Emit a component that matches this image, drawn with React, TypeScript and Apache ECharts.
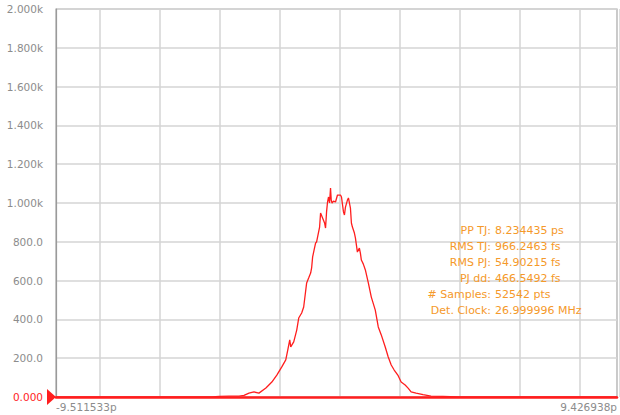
import React, { useEffect, useRef } from "react";
import * as echarts from "echarts";

const xMin = -9.511533;
const xMax = 9.426938;
const xTickLabels = ["-9.511533p", "9.426938p"];
const yTickLabels = ["0.000", "200.0", "400.0", "600.0", "800.0", "1.000k", "1.200k", "1.400k", "1.600k", "1.800k", "2.000k"];

const timePs = [
  -9.511533, -4.239, -4.004, -3.669, -3.333, -3.165, -2.997, -2.829, -2.661, -2.426,
  -2.225, -2.057, -1.889, -1.755, -1.688, -1.621, -1.587, -1.486, -1.385, -1.318,
  -1.218, -1.15, -1.05, -0.983, -0.915, -0.882, -0.848, -0.798, -0.747, -0.714,
  -0.613, -0.58, -0.512, -0.445, -0.412, -0.378, -0.345, -0.311, -0.277, -0.244,
  -0.22, -0.193, -0.143, -0.076, -0.009, 0.092, 0.126, 0.193, 0.226, 0.26,
  0.327, 0.361, 0.428, 0.461, 0.495, 0.562, 0.596, 0.629, 0.663, 0.73,
  0.764, 0.797, 0.864, 0.932, 1.032, 1.133, 1.267, 1.368, 1.469, 1.603,
  1.704, 1.805, 1.905, 2.04, 2.14, 2.275, 2.375, 2.476, 2.644, 2.879,
  3.148, 3.551, 4.054, 9.426938,
];
const counts = [
  0, 0, 3, 4, 5, 8, 20, 26, 20, 46,
  77, 113, 155, 191, 242, 294, 258, 284, 345, 407,
  433, 464, 588, 613, 639, 665, 722, 758, 794, 799,
  876, 948, 923, 897, 871, 954, 1005, 1031, 1000, 1077,
  1015, 1000, 1010, 1005, 1041, 1041, 1031, 954, 938, 979,
  1015, 1026, 974, 897, 876, 845, 820, 784, 747, 768,
  742, 706, 685, 655, 588, 515, 448, 361, 320, 258,
  206, 165, 139, 110, 77, 62, 46, 26, 20, 12,
  5, 3, 0, 0,
];

const statLabels = ["PP TJ:", "RMS TJ:", "RMS PJ:", "PJ dd:", "# Samples:", "Det. Clock:"];
const statValues = ["8.234435 ps", "966.2463 fs", "54.90215 fs", "466.5492 fs", "52542 pts", "26.999996 MHz"];

const FONT = "DejaVu Sans";
const GREY = "#8c8c8c";
const RED = "#ff1e1e";
const ORANGE = "#f5992a";

export default function App() {
  const ref = useRef<HTMLDivElement>(null);
  useEffect(() => {
    if (!ref.current) return;
    const chart = echarts.init(ref.current, undefined, { renderer: "svg" });
    const data = timePs.map((t, i) => [t, counts[i]]);
    const statGraphics: any[] = [];
    statLabels.forEach((lab, i) => {
      const y = 230 + i * 16;
      statGraphics.push({
        type: "text",
        x: 491,
        y,
        style: { text: lab, fill: ORANGE, font: `11px "${FONT}"`, align: "right", verticalAlign: "middle" },
        z: 10,
      });
      statGraphics.push({
        type: "text",
        x: 495,
        y,
        style: { text: statValues[i], fill: ORANGE, font: `11px "${FONT}"`, align: "left", verticalAlign: "middle" },
        z: 10,
      });
    });
    chart.setOption({
      animation: false,
      backgroundColor: "#ffffff",
      grid: [
        { left: 56, right: -1, top: 9, bottom: 18, show: true, borderColor: "#a8a8a8", borderWidth: 1.2, backgroundColor: "transparent" },
        { left: 100, right: 0, top: 9, bottom: 18 },
      ],
      xAxis: [
        {
          type: "value",
          gridIndex: 0,
          min: xMin,
          max: xMax,
          splitLine: { show: false },
          axisTick: { show: false },
          axisLine: { show: true, onZero: false, lineStyle: { color: RED, width: 2.5 } },
          axisLabel: {
            customValues: [xMin, xMax],
            formatter: (v: number) => (v < 0 ? xTickLabels[0] : xTickLabels[1]),
            color: GREY,
            fontFamily: FONT,
            fontSize: 10.5,
            margin: 4,
            alignMinLabel: "left",
            alignMaxLabel: "right",
          },
          z: 5,
        },
        {
          type: "value",
          gridIndex: 1,
          min: 0,
          max: 520,
          interval: 60,
          axisLine: { show: false },
          axisTick: { show: false },
          axisLabel: { show: false },
          splitLine: { show: true, lineStyle: { color: "#d4d4d4", width: 1.5 } },
        },
      ],
      yAxis: [
        {
          type: "value",
          gridIndex: 0,
          min: 0,
          max: 2000,
          interval: 200,
          axisLine: { show: true, onZero: false, lineStyle: { color: "#9a9a9a", width: 1.2 } },
          axisTick: { show: false },
          splitLine: { show: true, lineStyle: { color: "#d4d4d4", width: 1.5 } },
          axisLabel: {
            formatter: (v: number) => yTickLabels[Math.round(v / 200)],
            color: (v: any) => (Number(v) === 0 ? RED : GREY),
            fontFamily: FONT,
            fontSize: 10.5,
            margin: 13,
          },
        },
        {
          type: "value",
          gridIndex: 1,
          min: 0,
          max: 1,
          show: false,
          splitLine: { show: false },
        },
      ],
      series: [
        {
          type: "line",
          xAxisIndex: 0,
          yAxisIndex: 0,
          data,
          showSymbol: false,
          symbol: "none",
          lineStyle: { color: RED, width: 1.3 },
          z: 3,
        },
      ],
      graphic: [
        {
          type: "polygon",
          shape: { points: [[47, 389], [56, 397], [47, 405]] },
          style: { fill: RED },
          z: 10,
        },
        ...statGraphics,
      ],
    });
    return () => chart.dispose();
  }, []);
  return <div ref={ref} style={{ position: "fixed", left: 0, top: 0, width: 620, height: 415 }} />;
}
